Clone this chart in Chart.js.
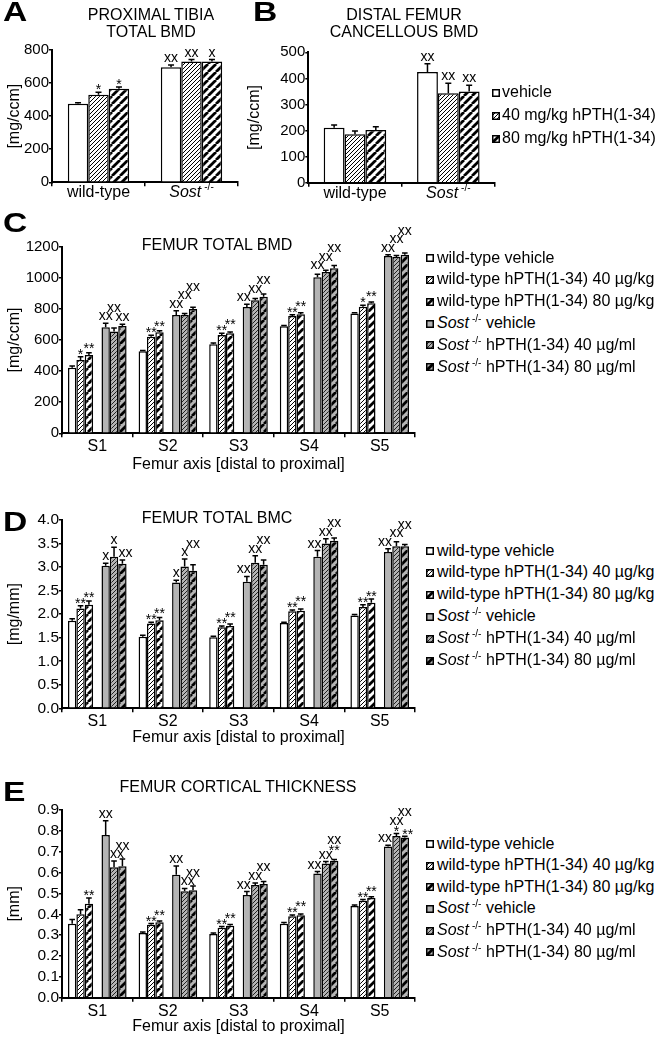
<!DOCTYPE html>
<html>
<head>
<meta charset="utf-8">
<title>hPTH in Sost-/- mice</title>
<script src="https://cdn.jsdelivr.net/npm/chart.js@4.4.1/dist/chart.umd.min.js"></script>
<style>
  body { margin: 0; background: #fff; }
  #fig { position: relative; width: 665px; height: 1037px; overflow: hidden;
         font-family: "Liberation Sans", Arial, Helvetica, sans-serif; color: #000; }
  #fig canvas { position: absolute; }
  .txt { position: absolute; white-space: nowrap; line-height: 1; }
  .letter { font-weight: bold; font-size: 28px; transform: scaleX(1.2); transform-origin: left top; }
  .ttl { font-size: 16px; text-align: center; width: 300px; }
  .leg { font-size: 16px; }
  .sup { font-size: 10px; position: relative; top: -6px; margin-left: 3px; }
</style>
</head>
<body>
<div id="fig">
  <canvas id="chartA" width="245" height="205" style="left:0px;top:0px"></canvas>
  <canvas id="chartB" width="260" height="205" style="left:240px;top:0px"></canvas>
  <canvas id="chartC" width="420" height="275" style="left:0px;top:200px"></canvas>
  <canvas id="chartD" width="420" height="278" style="left:0px;top:470px"></canvas>
  <canvas id="chartE" width="420" height="297" style="left:0px;top:740px"></canvas>
</div>
<script>
// ---------------- data ----------------
const catsAB = ['wild-type', 'Sost -/-'];
const catsS = ['S1', 'S2', 'S3', 'S4', 'S5'];
const doseLabels = ['vehicle', '40 mg/kg hPTH(1-34)', '80 mg/kg hPTH(1-34)'];
const groupLabels = ['wild-type vehicle', 'wild-type hPTH(1-34) 40 µg/kg', 'wild-type hPTH(1-34) 80 µg/kg',
                     'Sost -/- vehicle', 'Sost -/- hPTH(1-34) 40 µg/ml', 'Sost -/- hPTH(1-34) 80 µg/ml'];

// A: proximal tibia total BMD [mg/ccm]
const tibiaVeh = [475, 695];
const tibia40 = [530, 731];
const tibia80 = [566, 731];
const tibiaVehErr = [6, 14];
const tibia40Err = [15, 11];
const tibia80Err = [10, 11];
const tibiaVehSig = ['', 'xx'];
const tibia40Sig = ['*', 'xx'];
const tibia80Sig = ['*', 'x'];
const tibiaTicks = [0, 200, 400, 600, 800];
const tibiaTickLabels = ['0', '200', '400', '600', '800'];

// B: distal femur cancellous BMD [mg/ccm]
const cancVeh = [211, 424];
const canc40 = [186, 343];
const canc80 = [202, 350];
const cancVehErr = [10, 32];
const canc40Err = [12, 38];
const canc80Err = [13, 24];
const cancVehSig = ['', 'xx'];
const canc40Sig = ['', 'xx'];
const canc80Sig = ['', 'xx'];
const cancTicks = [0, 100, 200, 300, 400, 500];
const cancTickLabels = ['0', '100', '200', '300', '400', '500'];

// C: femur total BMD [mg/ccm]
const bmdWtVeh = [422, 527, 572, 688, 771];
const bmdWt40 = [471, 621, 632, 754, 814];
const bmdWt80 = [503, 650, 643, 765, 836];
const bmdSostVeh = [682, 761, 812, 1003, 1140];
const bmdSost40 = [655, 761, 855, 1037, 1133];
const bmdSost80 = [690, 799, 878, 1061, 1148];
const bmdWtVehErr = [10, 5, 8, 5, 5];
const bmdWt40Err = [22, 10, 12, 8, 10];
const bmdWt80Err = [15, 10, 8, 10, 8];
const bmdSostVehErr = [25, 27, 18, 20, 8];
const bmdSost40Err = [22, 10, 12, 12, 10];
const bmdSost80Err = [12, 12, 18, 18, 12];
const bmdWt40Sig = ['*', '**', '**', '**', '*'];
const bmdWt80Sig = ['**', '**', '**', '**', '**'];
const bmdSostVehSig = ['xx', 'xx', 'xx', 'xx', 'xx'];
const bmdSost40Sig = ['xx', 'xx', 'xx', 'xx', 'xx'];
const bmdSost80Sig = ['xx', 'xx', 'xx', 'xx', 'xx'];
const bmdTicks = [0, 200, 400, 600, 800, 1000, 1200];
const bmdTickLabels = ['0', '200', '400', '600', '800', '1000', '1200'];

// D: femur total BMC [mg/mm]
const bmcWtVeh = [1.86, 1.52, 1.51, 1.81, 1.97];
const bmcWt40 = [2.12, 1.80, 1.72, 2.06, 2.15];
const bmcWt80 = [2.20, 1.87, 1.75, 2.07, 2.24];
const bmcSostVeh = [3.03, 2.67, 2.69, 3.22, 3.32];
const bmcSost40 = [3.22, 3.01, 3.09, 3.50, 3.44];
const bmcSost80 = [3.07, 2.92, 3.05, 3.56, 3.44];
const bmcWtVehErr = [0.04, 0.03, 0.02, 0.02, 0.02];
const bmcWt40Err = [0.06, 0.03, 0.03, 0.03, 0.05];
const bmcWt80Err = [0.08, 0.06, 0.04, 0.04, 0.08];
const bmcSostVehErr = [0.05, 0.05, 0.11, 0.13, 0.07];
const bmcSost40Err = [0.20, 0.16, 0.15, 0.10, 0.10];
const bmcSost80Err = [0.08, 0.13, 0.10, 0.06, 0.04];
const bmcWt40Sig = ['**', '**', '**', '**', '**'];
const bmcWt80Sig = ['**', '**', '**', '**', '**'];
const bmcSostVehSig = ['x', 'x', 'xx', 'xx', 'xx'];
const bmcSost40Sig = ['x', 'x', 'xx', 'xx', 'xx'];
const bmcSost80Sig = ['xx', 'xx', 'xx', 'xx', 'xx'];
const bmcTicks = [0, 0.5, 1, 1.5, 2, 2.5, 3, 3.5, 4];
const bmcTickLabels = ['0.0', '0.5', '1.0', '1.5', '2.0', '2.5', '3.0', '3.5', '4.0'];

// E: femur cortical thickness [mm]
const ctWtVeh = [0.355, 0.310, 0.305, 0.355, 0.440];
const ctWt40 = [0.400, 0.350, 0.335, 0.390, 0.465];
const ctWt80 = [0.450, 0.362, 0.345, 0.395, 0.478];
const ctSostVeh = [0.780, 0.590, 0.493, 0.595, 0.725];
const ctSost40 = [0.625, 0.510, 0.540, 0.643, 0.775];
const ctSost80 = [0.630, 0.515, 0.545, 0.657, 0.768];
const ctWtVehErr = [0.020, 0.005, 0.005, 0.005, 0.005];
const ctWt40Err = [0.022, 0.006, 0.006, 0.006, 0.006];
const ctWt80Err = [0.028, 0.006, 0.006, 0.006, 0.006];
const ctSostVehErr = [0.068, 0.042, 0.016, 0.010, 0.006];
const ctSost40Err = [0.030, 0.014, 0.010, 0.010, 0.012];
const ctSost80Err = [0.035, 0.020, 0.012, 0.006, 0.006];
const ctWt40Sig = ['', '**', '**', '**', '**'];
const ctWt80Sig = ['**', '**', '**', '**', '**'];
const ctSostVehSig = ['xx', 'xx', 'xx', 'xx', 'xx'];
const ctSost40Sig = ['xx', 'xx', 'xx', 'xx', 'xx\n*'];
const ctSost80Sig = ['xx', 'xx', 'xx', 'xx\n**', 'xx\n**'];
const ctTicks = [0, 0.1, 0.2, 0.3, 0.4, 0.5, 0.6, 0.7, 0.8, 0.9];
const ctTickLabels = ['0.0', '0.1', '0.2', '0.3', '0.4', '0.5', '0.6', '0.7', '0.8', '0.9'];

// ---------------- styles ----------------
const FONT = '"Liberation Sans", Arial, Helvetica, sans-serif';
Chart.defaults.font.family = FONT;
Chart.defaults.color = '#000';

function hatch(bg, ink, size, width) {
  const c = document.createElement('canvas');
  c.width = size; c.height = size;
  const g = c.getContext('2d');
  g.fillStyle = bg;
  g.fillRect(0, 0, size, size);
  g.strokeStyle = ink;
  g.lineWidth = width;
  g.beginPath();
  for (let k = -1; k <= 1; k++) {
    g.moveTo(k * size, size);
    g.lineTo(k * size + size, 0);
  }
  g.stroke();
  return g.createPattern(c, 'repeat');
}
const GRAY = '#b4b4b4';
const fills = {
  white: '#ffffff',
  fine: hatch('#ffffff', '#000', 4, 1),
  thick: hatch('#ffffff', '#000', 8, 2.8),
  gray: GRAY,
  grayFine: hatch(GRAY, '#222', 4, 1),
  grayThick: hatch(GRAY, '#000', 8, 2.8)
};
const fillsAB = [fills.white, fills.fine, fills.thick];
const fillsS = [fills.white, fills.fine, fills.thick, fills.gray, fills.grayFine, fills.grayThick];

// error bars, significance marks and italic category labels
const marks = {
  id: 'marks',
  afterDatasetsDraw(chart, args, opts) {
    const ctx = chart.ctx, ys = chart.scales.y;
    const fs = opts.sigSize;
    const boxes = [];
    ctx.save();
    ctx.strokeStyle = '#000';
    ctx.lineWidth = 1.5;
    chart.data.datasets.forEach((ds, di) => {
      if (!ds.err) return;
      chart.getDatasetMeta(di).data.forEach((bar, i) => {
        const top = ys.getPixelForValue(ds.data[i] + ds.err[i]);
        const cap = Math.min(3, bar.width / 3);
        ctx.beginPath();
        ctx.moveTo(bar.x, bar.y);
        ctx.lineTo(bar.x, top);
        ctx.moveTo(bar.x - cap, top);
        ctx.lineTo(bar.x + cap, top);
        ctx.stroke();
        boxes.push({x0: bar.x - bar.width / 2 + 2.5, x1: bar.x + bar.width / 2 - 2.5, top: top, bottom: bar.base});
      });
    });

    // place each mark just above its error bar; slide it a little or lift it if it would overlap
    ctx.font = fs + 'px ' + FONT;
    ctx.fillStyle = '#000';
    ctx.textAlign = 'center';
    ctx.textBaseline = 'alphabetic';
    chart.data.labels.forEach((lab, i) => {
      chart.data.datasets.forEach((ds, di) => {
        if (!ds.sig || !ds.sig[i]) return;
        const bar = chart.getDatasetMeta(di).data[i];
        let floor = ys.getPixelForValue(ds.data[i] + ds.err[i]) - 3;
        ds.sig[i].split('\n').reverse().forEach(line => {
          const star = line.indexOf('*') >= 0;
          const w = ctx.measureText(line).width;
          const hi = star ? 0.74 * fs : 0.54 * fs;
          const lo = star ? 0.38 * fs : 0;
          let best = null;
          [0, 3, -3].forEach(dx => {
            const b = {x0: bar.x + dx - w / 2 - 1, x1: bar.x + dx + w / 2 + 1};
            let f = floor;
            for (let n = 0; n < 60; n++) {
              b.bottom = f;
              b.top = f - (hi - lo);
              const hit = boxes.find(o => b.x0 < o.x1 && b.x1 > o.x0 && b.top < o.bottom && b.bottom > o.top);
              if (!hit) break;
              f = hit.top - 1;
            }
            if (!best || f > best.f + 3) best = {f: f, dx: dx, b: b};
          });
          ctx.fillText(line, bar.x + best.dx, best.f + lo);
          boxes.push(best.b);
          floor = best.b.top - 1;
        });
      });
    });

    if (opts.rich) {
      const xs = chart.scales.x;
      const base = chart.chartArea.bottom + opts.catDy;
      ctx.textAlign = 'left';
      chart.data.labels.forEach((lab, i) => {
        const cx = xs.getPixelForValue(i);
        if (lab.indexOf('-/-') >= 0) {
          const main = lab.replace(' -/-', '');
          ctx.font = 'italic 16px ' + FONT;
          const w1 = ctx.measureText(main).width;
          ctx.font = '10px ' + FONT;
          const w2 = ctx.measureText('-/-').width;
          const x0 = cx - (w1 + 3 + w2) / 2;
          ctx.font = 'italic 16px ' + FONT;
          ctx.fillText(main, x0, base);
          ctx.font = '10px ' + FONT;
          ctx.fillText('-/-', x0 + w1 + 3, base - 7);
        } else {
          ctx.font = '16px ' + FONT;
          const w = ctx.measureText(lab).width;
          ctx.fillText(lab, cx - w / 2, base);
        }
      });
    }
    ctx.restore();
  }
};

function barChart(id, o) {
  const datasets = o.series.map(s => ({
    label: s.label,
    data: s.data,
    err: s.err,
    sig: s.sig,
    backgroundColor: s.fill || 'rgba(0,0,0,0)',
    borderColor: '#000',
    borderWidth: s.fill ? 1.5 : 0,
    categoryPercentage: o.catPct,
    barPercentage: 1
  }));
  const axisLine = {display: true, color: '#000', width: 2};
  return new Chart(document.getElementById(id), {
    type: 'bar',
    data: {labels: o.cats, datasets: datasets},
    options: {
      responsive: false,
      animation: false,
      events: [],
      layout: {padding: {left: 0, top: o.plotTop - o.top, right: o.left + o.w - o.plotRight, bottom: 0}},
      plugins: {
        legend: {display: false},
        tooltip: {enabled: false},
        marks: {sigSize: 14, rich: o.rich, catDy: 15}
      },
      scales: {
        x: {
          border: axisLine,
          grid: {drawOnChartArea: false, tickLength: 4, color: '#000', lineWidth: 1.5},
          ticks: {display: !o.rich, padding: 0, maxRotation: 0, autoSkip: false, font: {size: 16}},
          title: {display: !!o.xTitle, text: o.xTitle, font: {size: 16}, padding: {top: 0, bottom: 1}},
          afterFit: s => { s.height = o.top + o.h - o.plotBottom; }
        },
        y: {
          min: 0,
          max: o.yTicks[o.yTicks.length - 1],
          border: axisLine,
          grid: {drawOnChartArea: false, tickLength: 3, color: '#000', lineWidth: 1.5},
          afterBuildTicks: s => { s.ticks = o.yTicks.map(v => ({value: v})); },
          ticks: {padding: 0, autoSkip: false, font: {size: o.tickSize}, callback: (v, i) => o.yLabels[i]},
          title: {display: true, text: o.yTitle, font: {size: 16}, padding: {top: 5, bottom: 0}},
          afterFit: s => { s.width = o.axisX - o.left; }
        }
      }
    },
    plugins: [marks]
  });
}

function groupSeries(vals, errs, sigs) {
  const out = [];
  vals.forEach((v, k) => {
    if (k === 3) out.push({label: '', data: catsS.map(() => null)}); // gap between genotypes
    out.push({label: groupLabels[k], data: v, err: errs[k], sig: sigs[k], fill: fillsS[k]});
  });
  return out;
}

barChart('chartA', {
  left: 0, top: 0, w: 245, h: 205, axisX: 52, plotTop: 50, plotBottom: 182.3, plotRight: 238,
  cats: catsAB, catPct: 0.66, rich: true, tickSize: 15,
  yTicks: tibiaTicks, yLabels: tibiaTickLabels, yTitle: '[mg/ccm]', xTitle: null,
  series: [
    {label: doseLabels[0], data: tibiaVeh, err: tibiaVehErr, sig: tibiaVehSig, fill: fillsAB[0]},
    {label: doseLabels[1], data: tibia40, err: tibia40Err, sig: tibia40Sig, fill: fillsAB[1]},
    {label: doseLabels[2], data: tibia80, err: tibia80Err, sig: tibia80Sig, fill: fillsAB[2]}
  ]
});

barChart('chartB', {
  left: 240, top: 0, w: 260, h: 205, axisX: 308.3, plotTop: 52.3, plotBottom: 182.7, plotRight: 495,
  cats: catsAB, catPct: 0.67, rich: true, tickSize: 15,
  yTicks: cancTicks, yLabels: cancTickLabels, yTitle: '[mg/ccm]', xTitle: null,
  series: [
    {label: doseLabels[0], data: cancVeh, err: cancVehErr, sig: cancVehSig, fill: fillsAB[0]},
    {label: doseLabels[1], data: canc40, err: canc40Err, sig: canc40Sig, fill: fillsAB[1]},
    {label: doseLabels[2], data: canc80, err: canc80Err, sig: canc80Sig, fill: fillsAB[2]}
  ]
});

barChart('chartC', {
  left: 0, top: 200, w: 420, h: 275, axisX: 62, plotTop: 246.7, plotBottom: 433.3, plotRight: 415,
  cats: catsS, catPct: 0.83, rich: false, tickSize: 15,
  yTicks: bmdTicks, yLabels: bmdTickLabels, yTitle: '[mg/ccm]', xTitle: 'Femur axis [distal to proximal]',
  series: groupSeries(
    [bmdWtVeh, bmdWt40, bmdWt80, bmdSostVeh, bmdSost40, bmdSost80],
    [bmdWtVehErr, bmdWt40Err, bmdWt80Err, bmdSostVehErr, bmdSost40Err, bmdSost80Err],
    [null, bmdWt40Sig, bmdWt80Sig, bmdSostVehSig, bmdSost40Sig, bmdSost80Sig])
});

barChart('chartD', {
  left: 0, top: 470, w: 420, h: 278, axisX: 62, plotTop: 520, plotBottom: 708.3, plotRight: 415,
  cats: catsS, catPct: 0.83, rich: false, tickSize: 15.5,
  yTicks: bmcTicks, yLabels: bmcTickLabels, yTitle: '[mg/mm]', xTitle: 'Femur axis [distal to proximal]',
  series: groupSeries(
    [bmcWtVeh, bmcWt40, bmcWt80, bmcSostVeh, bmcSost40, bmcSost80],
    [bmcWtVehErr, bmcWt40Err, bmcWt80Err, bmcSostVehErr, bmcSost40Err, bmcSost80Err],
    [null, bmcWt40Sig, bmcWt80Sig, bmcSostVehSig, bmcSost40Sig, bmcSost80Sig])
});

barChart('chartE', {
  left: 0, top: 740, w: 420, h: 297, axisX: 62, plotTop: 810, plotBottom: 997.7, plotRight: 415,
  cats: catsS, catPct: 0.83, rich: false, tickSize: 15.5,
  yTicks: ctTicks, yLabels: ctTickLabels, yTitle: '[mm]', xTitle: 'Femur axis [distal to proximal]',
  series: groupSeries(
    [ctWtVeh, ctWt40, ctWt80, ctSostVeh, ctSost40, ctSost80],
    [ctWtVehErr, ctWt40Err, ctWt80Err, ctSostVehErr, ctSost40Err, ctSost80Err],
    [null, ctWt40Sig, ctWt80Sig, ctSostVehSig, ctSost40Sig, ctSost80Sig])
});

// ---------------- text: panel letters, titles, legends ----------------
const fig = document.getElementById('fig');
function addText(html, cls, x, baseline, size, centered) {
  const d = document.createElement('div');
  d.className = 'txt ' + cls;
  d.innerHTML = html;
  d.style.top = (baseline - 0.8465 * size) + 'px';
  d.style.left = (centered ? x - 150 : x) + 'px';
  fig.appendChild(d);
}
function rich(label) {
  return label.replace('Sost -/-', '<i>Sost</i><span class="sup">-/-</span>');
}

addText('A', 'letter', 3, 22, 28);
addText('B', 'letter', 253, 22, 28);
addText('C', 'letter', 3, 233, 28);
addText('D', 'letter', 3, 532, 28);
addText('E', 'letter', 3, 802, 28);

addText('PROXIMAL TIBIA', 'ttl', 151, 20.5, 16, true);
addText('TOTAL BMD', 'ttl', 151, 37.3, 16, true);
addText('DISTAL FEMUR', 'ttl', 404, 20.5, 16, true);
addText('CANCELLOUS BMD', 'ttl', 404, 37.3, 16, true);
addText('FEMUR TOTAL BMD', 'ttl', 217, 250.7, 16, true);
addText('FEMUR TOTAL BMC', 'ttl', 217, 523.3, 16, true);
addText('FEMUR CORTICAL THICKNESS', 'ttl', 238, 792.3, 16, true);

function legend(labels, fillList, boxLeft, textLeft, first, step) {
  labels.forEach((lab, k) => {
    const c = first + k * step;
    const sw = document.createElement('canvas');
    sw.width = 8; sw.height = 8;
    sw.style.left = boxLeft + 'px';
    sw.style.top = (c - 3.5) + 'px';
    const g = sw.getContext('2d');
    g.fillStyle = fillList[k];
    g.fillRect(0, 0, 8, 8);
    g.strokeStyle = '#000';
    g.lineWidth = 1.5;
    g.strokeRect(0.75, 0.75, 6.5, 6.5);
    fig.appendChild(sw);
    const d = document.createElement('div');
    d.className = 'txt leg';
    d.innerHTML = rich(lab);
    d.style.left = textLeft + 'px';
    d.style.top = (c - 8) + 'px';
    fig.appendChild(d);
  });
}
legend(doseLabels, fillsAB, 492, 502, 92, 23);
legend(groupLabels, fillsS, 426, 437, 257.5, 21.85);
legend(groupLabels, fillsS, 426, 437, 550.5, 21.9);
legend(groupLabels, fillsS, 426, 437, 843.5, 21.65);
</script>
</body>
</html>
